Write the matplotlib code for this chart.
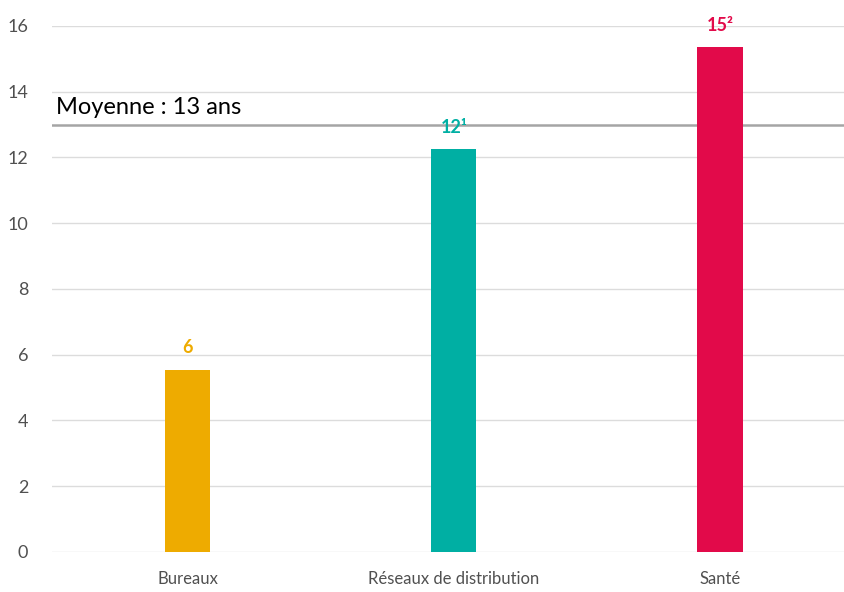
import matplotlib.pyplot as plt

plt.rcParams['font.family'] = ['Lato', 'DejaVu Sans']

# durée moyenne par secteur (années)
secteurs = ['Bureaux', 'Réseaux de distribution', 'Santé']
durees = [5.55, 12.25, 15.35]
renvois = ['', '¹', '²']
couleurs = ['#eeab00', '#00afa3', '#e20a4a']
moyenne = 13

fig = plt.figure(figsize=(8.45, 5.92), dpi=100)
ax = fig.add_axes([0.0615, 0.0676, 0.9385, 0.8885])

x = range(len(secteurs))
ax.bar(x, durees, width=0.17, color=couleurs, zorder=3)

# valeurs arrondies au-dessus des barres
for i, (v, r, c) in enumerate(zip(durees, renvois, couleurs)):
    ax.text(i, v + 0.4, f'{v:.0f}{r}', ha='center', va='bottom',
            color=c, fontsize=13, fontweight='bold', zorder=4)

# ligne de moyenne
ax.axhline(moyenne, color='#a5a5a5', lw=1.8, zorder=2)
ax.text(-0.495, moyenne + 0.2, f'Moyenne : {moyenne} ans', ha='left',
        va='bottom', fontsize=17, color='black', zorder=4)

ax.set_ylim(0, 16)
ax.set_xlim(-0.51, 2.47)
ax.set_yticks(range(0, 17, 2))
ax.set_xticks(list(x))
ax.set_xticklabels(secteurs)
ax.grid(axis='y', color='#dcdcdc', lw=1, zorder=0)
for s in ax.spines.values():
    s.set_visible(False)
ax.tick_params(axis='both', length=0, labelsize=12, colors='#505050')
ax.tick_params(axis='y', labelsize=13, pad=17)
ax.tick_params(axis='x', pad=14)

plt.savefig('out.png')
